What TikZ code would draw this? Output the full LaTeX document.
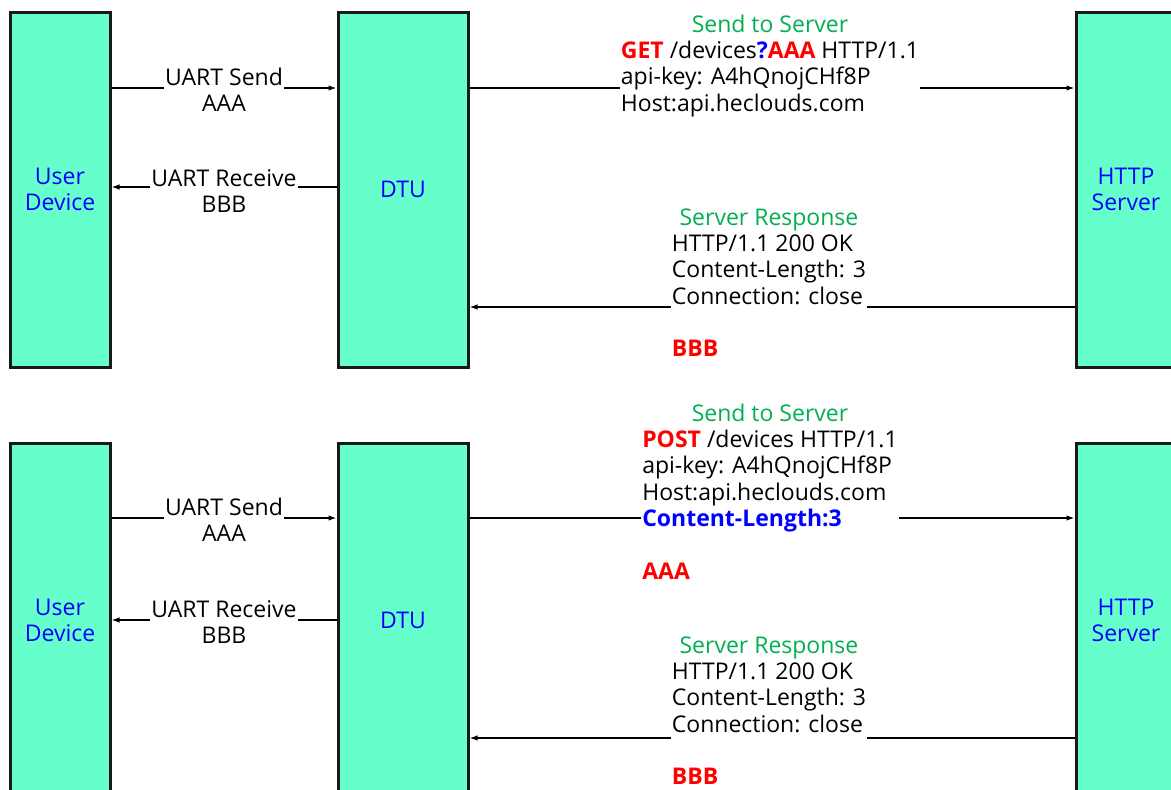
\documentclass[tikz,border=0pt]{standalone}
\usepackage{fontspec}
\setmainfont{Open Sans}
\usetikzlibrary{arrows.meta}
\definecolor{mint}{RGB}{102,255,204}
\definecolor{sgreen}{RGB}{0,176,80}
\definecolor{sblue}{RGB}{0,0,255}
\definecolor{sred}{RGB}{255,0,0}

\begin{document}
\begin{tikzpicture}[x=1pt,y=-1pt,
  every node/.style={font=\fontsize{23}{26.3}\selectfont},
  unit/.style={draw=black!90,line width=3pt,fill=mint,minimum width=100pt,minimum height=355pt,inner sep=0pt,align=center,text=sblue},
  flow/.style={line width=1.4pt,-{Latex[length=8pt,width=5.5pt]}},
  msg/.style={fill=white,inner xsep=1pt,inner ysep=0pt,anchor=north}]
\useasboundingbox (0,0) rectangle (1171,790);

% GET
\node[unit] (ud1) at (60,189.5) {User\\Device};
\node[unit,minimum width=130pt] (dtu1) at (403,189.5) {DTU};
\node[unit] (srv1) at (1126,189.5) {HTTP\\Server};
\draw[flow] (ud1.east |- 0,88) -- (dtu1.west |- 0,88);
\draw[flow] (dtu1.west |- 0,187) -- (ud1.east |- 0,187);
\draw[flow] (dtu1.east |- 0,88) -- (srv1.west |- 0,88);
\draw[flow] (srv1.west |- 0,307) -- (dtu1.east |- 0,307);
\node[msg] (snd1) at (224,66.6) {\begin{tabular}{@{}c@{}}UART Send\\AAA\end{tabular}};
\node[msg] (rcv1) at (224,167.6) {\begin{tabular}{@{}c@{}}UART Receive\\BBB\end{tabular}};
\node[msg] (req1) at (770,13.6) {\begin{tabular}{@{}l@{}}
  \multicolumn{1}{@{}c@{}}{\color{sgreen}Send to Server}\\
  \textcolor{sred}{\bfseries GET} /devices\textcolor{sblue}{\bfseries ?}\textcolor{sred}{\bfseries AAA} HTTP/1.1\\
  api-key: A4hQnojCHf8P\\
  Host:api.heclouds.com
\end{tabular}};
\node[msg] (rsp1) at (769,206.6) {\begin{tabular}{@{}l@{}}
  \multicolumn{1}{@{}c@{}}{\color{sgreen}Server Response}\\
  HTTP/1.1 200 OK\\
  Content-Length: 3\\
  Connection: close\\
  \\
  \textcolor{sred}{\bfseries BBB}
\end{tabular}};

% POST
\node[unit] (ud2) at (60,620.5) {User\\Device};
\node[unit,minimum width=130pt] (dtu2) at (403,620.5) {DTU};
\node[unit] (srv2) at (1126,620.5) {HTTP\\Server};
\draw[flow] (ud2.east |- 0,518) -- (dtu2.west |- 0,518);
\draw[flow] (dtu2.west |- 0,620) -- (ud2.east |- 0,620);
\draw[flow] (dtu2.east |- 0,518) -- (srv2.west |- 0,518);
\draw[flow] (srv2.west |- 0,738) -- (dtu2.east |- 0,738);
\node[msg] (snd2) at (224,496.6) {\begin{tabular}{@{}c@{}}UART Send\\AAA\end{tabular}};
\node[msg] (rcv2) at (224,598.6) {\begin{tabular}{@{}c@{}}UART Receive\\BBB\end{tabular}};
\node[msg] (req2) at (770,402.6) {\begin{tabular}{@{}l@{}}
  \multicolumn{1}{@{}c@{}}{\color{sgreen}Send to Server}\\
  \textcolor{sred}{\bfseries POST} /devices HTTP/1.1\\
  api-key: A4hQnojCHf8P\\
  Host:api.heclouds.com\\
  \textcolor{sblue}{\bfseries Content-Length:3}\\
  \\
  \textcolor{sred}{\bfseries AAA}
\end{tabular}};
\node[msg] (rsp2) at (769,634.6) {\begin{tabular}{@{}l@{}}
  \multicolumn{1}{@{}c@{}}{\color{sgreen}Server Response}\\
  HTTP/1.1 200 OK\\
  Content-Length: 3\\
  Connection: close\\
  \\
  \textcolor{sred}{\bfseries BBB}
\end{tabular}};
\end{tikzpicture}
\end{document}
